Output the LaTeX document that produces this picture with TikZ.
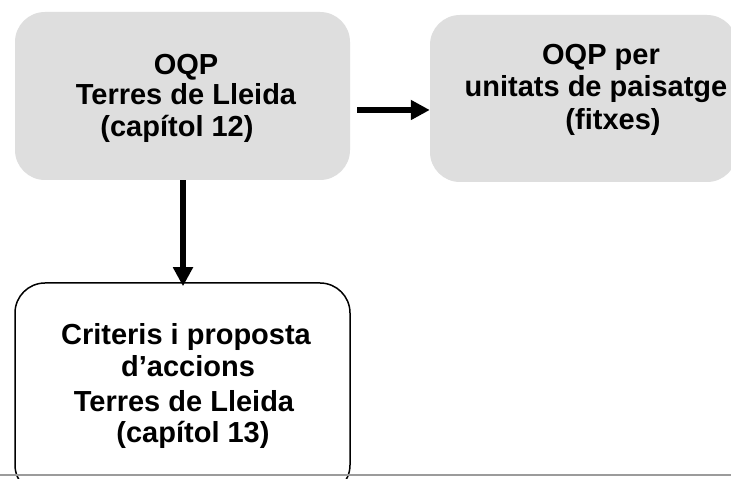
\documentclass[tikz,border=0pt]{standalone}
\usepackage{fontspec}
\setmainfont{Liberation Sans}
\usetikzlibrary{arrows.meta}
\definecolor{boxgray}{RGB}{222,222,222}
\definecolor{linegray}{RGB}{155,155,155}
\tikzset{
  graybox/.style={draw=none, fill=boxgray, rounded corners=30pt, inner sep=0pt},
  whitebox/.style={draw=black, line width=1.5pt, fill=white, rounded corners=30pt, inner sep=0pt},
  txt/.style={anchor=base, inner sep=0pt, font=\fontsize{29}{34}\selectfont\bfseries},
  arr/.style={line width=6pt, -{Triangle[length=19pt,width=19pt]}},
}
\begin{document}
\begin{tikzpicture}[x=1pt,y=1pt]
\useasboundingbox (0,0) rectangle (731,479);
\clip (0,0) rectangle (731,479);
\fill[white] (0,0) rectangle (731,479);
% boxes
\node[graybox, minimum width=335pt, minimum height=168pt] (b1) at (182.5,383) {};
\node[graybox, minimum width=307pt, minimum height=167pt] (b2) at (583.5,380.5) {};
\node[whitebox, minimum width=335pt, minimum height=212pt] (b3) at (182.5,90) {};
% texts
\node[txt] (t1a) at (186,404) {OQP};
\node[txt] (t1b) at (186,374) {Terres de Lleida};
\node[txt] (t1c) at (177,342) {(capítol 12)};
\node[txt] (t2a) at (601,414) {OQP per};
\node[txt] (t2b) at (596,382) {unitats de paisatge};
\node[txt] (t2c) at (613,349) {(fitxes)};
\node[txt] (t3a) at (186,134) {Criteris i proposta};
\node[txt] (t3b) at (188,102) {d’accions};
\node[txt] (t3c) at (184,67) {Terres de Lleida};
\node[txt] (t3d) at (193,36) {(capítol 13)};
% arrows
\draw[arr] ([xshift=7pt,yshift=-14pt]b1.east) -- ([yshift=-11.5pt]b2.west);
\draw[arr, shorten >=-4pt] ([xshift=0.5pt]b1.south) -- ([xshift=0.5pt]b3.north);
% bottom rule
\coordinate (rl) at (0,4);
\coordinate (rr) at (731,4);
\draw[linegray, line width=2pt] (rl) -- (rr);
\end{tikzpicture}
\end{document}
